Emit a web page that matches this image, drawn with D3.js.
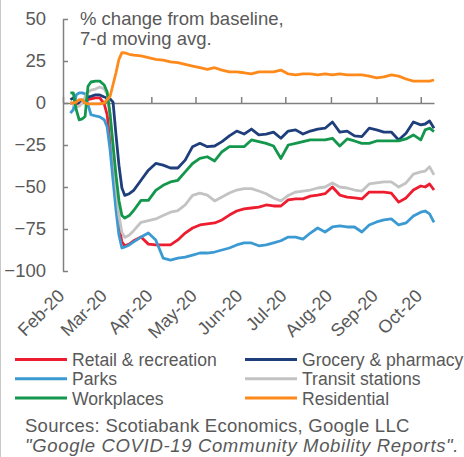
<!DOCTYPE html>
<html>

<head>
    <meta charset="UTF-8">
    <title>Mobility</title>
    <script src="https://d3js.org/d3.v7.min.js"></script>
    <style>
        body {
            margin: 0;
            background-color: white;
        }
        svg text {
            font-family: "Liberation Sans", Arial, sans-serif;
            fill: #595959;
        }
    </style>
</head>

<body>
    <div id="chart"></div>
    <script>
        // observation dates (7-d moving average)
        var dates = [
            '2020-02-06', '2020-02-08', '2020-02-10', '2020-02-12', '2020-02-14', '2020-02-16',
            '2020-02-18', '2020-02-20', '2020-02-23', '2020-02-26', '2020-02-29', '2020-03-02',
            '2020-03-04', '2020-03-06', '2020-03-08', '2020-03-10', '2020-03-12', '2020-03-14',
            '2020-03-17', '2020-03-20', '2020-03-25', '2020-03-30', '2020-04-04', '2020-04-09',
            '2020-04-14', '2020-04-19', '2020-04-24', '2020-04-29', '2020-05-04', '2020-05-09',
            '2020-05-14', '2020-05-19', '2020-05-24', '2020-05-29', '2020-06-03', '2020-06-08',
            '2020-06-13', '2020-06-18', '2020-06-23', '2020-06-28', '2020-07-03', '2020-07-08',
            '2020-07-13', '2020-07-18', '2020-07-23', '2020-07-28', '2020-08-02', '2020-08-07',
            '2020-08-12', '2020-08-17', '2020-08-22', '2020-08-27', '2020-09-01', '2020-09-06',
            '2020-09-11', '2020-09-16', '2020-09-21', '2020-09-26', '2020-10-01', '2020-10-04',
            '2020-10-07', '2020-10-10'
        ];

        var retail = [
            0, -0.5, -0.5, 0, 0.5, 0.5, 2, 2.4, 3, 3, -0.5, -7,
            -22.6, -40, -58, -72.6, -82.7, -85, -84, -82, -79.8, -84, -84.5, -84.5,
            -84.5, -81.5, -77.4, -74.4, -72.6, -72, -71.4, -69.6, -66.7, -64.3, -63, -62.5,
            -62, -60.7, -61.3, -61.3, -57.7, -57.1, -57.1, -55.4, -54.8, -54, -50, -54.8,
            -56, -56.5, -57.1, -53, -53, -53, -53.6, -59, -56.5, -51.8, -49.4, -50,
            -48.2, -51.8
        ];
        var grocery = [
            2, 3, 0.5, 0, 0.5, 2.4, 3.6, 4, 4.8, 4.8, 3.6, 3,
            2.4, 0.5, -19, -37, -50.6, -55, -54, -52, -46, -40, -36, -37,
            -38.7, -38.7, -34, -26, -24, -26, -25.6, -23, -19.6, -16.7, -18.5, -15.5,
            -19, -18.5, -17.3, -21, -16.7, -16, -18.5, -16.7, -15.5, -15, -11.3, -17.3,
            -16.7, -19.6, -20, -15, -16, -17.3, -17.3, -22, -18, -11.3, -13, -12.5,
            -10.7, -15
        ];
        var parks = [
            -6, -4, 4.8, 6, 6, 5.4, -1, -7, -7.7, -8.3, -10, -14.3,
            -28, -46, -63.7, -78.6, -86.3, -85.7, -84.5, -82.7, -79.8, -77.4, -81.5, -92.3,
            -93.5, -92.3, -91.7, -90.5, -89.3, -89.3, -88.7, -87.5, -86.3, -84.5, -83.3, -83.3,
            -85, -84.5, -83.3, -82, -79.8, -79.8, -81, -77.4, -74.4, -76.8, -73.8, -73.2,
            -73.8, -73.8, -76.8, -72.6, -70.8, -69.6, -69, -72.6, -71.4, -67.3, -65, -64.3,
            -66, -71
        ];
        var transit = [
            0, -0.5, -2, -2, 0, 3.6, 6.5, 7.7, 8.3, 9.5, 8.3, 5.4,
            -7, -28, -49, -67, -77, -80, -78.6, -76, -71, -70, -69, -67,
            -65, -64, -60.7, -55, -53.6, -54.8, -58.3, -56, -53.6, -51.8, -51, -51,
            -52.4, -54, -56.5, -58.3, -55, -53, -52.4, -51.8, -50.6, -50, -47.6, -50,
            -50.6, -51.8, -52.4, -48.2, -47.6, -47, -47, -50, -47.6, -42.3, -41, -40.5,
            -38, -42.8
        ];
        var workplaces = [
            6, 6, -4, -10, -9.5, -8, 10, 12.5, 13, 13, 10.7, 6.5,
            -7, -25, -43, -58, -67, -68.5, -67, -64, -58, -58, -52, -49,
            -47, -46, -41, -36, -33, -32, -34.5, -29, -26, -26, -26, -22,
            -23, -24, -25.6, -33, -25, -24, -23, -22, -22, -22, -21, -25.6,
            -21.4, -22.6, -24, -24, -22.6, -22.6, -22.6, -22.6, -21.4, -19, -22, -16,
            -15, -17
        ];
        var residential = [
            0, 0, 0.5, 2, 2, 0, -0.5, -0.5, -0.5, -0.5, 0, 2,
            4, 11, 18, 26, 30, 29.8, 29, 28.5, 28, 27, 26, 25.5,
            24.5, 24, 23, 22, 21, 20, 21, 19.6, 18.5, 18.5, 18, 17.3,
            18.5, 18.5, 18.5, 19.6, 17.3, 16.7, 17.3, 17.3, 16.7, 17.3, 16.7, 17.3,
            16.7, 16.7, 16.7, 16, 15, 15.5, 16.7, 16, 14.3, 13, 13, 13,
            13, 13.7
        ];

        var seriesNames = ['Retail & recreation', 'Grocery & pharmacy', 'Parks',
            'Transit stations', 'Workplaces', 'Residential'];
        var seriesValues = [retail, grocery, parks, transit, workplaces, residential];
        var seriesColors = ['#ED1C2E', '#1F3F7C', '#3C9AD3', '#C3C3C3', '#13974C', '#FF8A1C'];
        var yTicks = [50, 25, 0, -25, -50, -75, -100];

        var width = 464;
        var height = 457;

        var parseDate = d3.timeParse('%Y-%m-%d');
        var dateList = dates.map(parseDate);

        var svg = d3.select('#chart')
            .append('svg')
                .attr('width', width)
                .attr('height', height);

        // thin frame line on the left edge
        svg.append('line')
            .attr('x1', 0.5).attr('x2', 0.5)
            .attr('y1', 0).attr('y2', height)
            .attr('stroke', '#c8c8c8')
            .attr('stroke-width', 1);

        var x = d3.scaleTime()
            .domain([new Date(2020, 1, 1), new Date(2020, 9, 10)])
            .range([63, 434]);

        var y = d3.scaleLinear()
            .domain([-100, 50])
            .range([271, 19]);

        var axisColor = '#808080';

        // y axis, ticks pointing inward
        var yAxis = svg.append('g')
            .attr('transform', 'translate(63,0)')
            .call(d3.axisLeft(y)
                .tickValues(yTicks)
                .tickSizeInner(-5)
                .tickSizeOuter(0)
                .tickPadding(17));
        yAxis.select('.domain').attr('stroke', axisColor).attr('stroke-width', 1.5);
        yAxis.selectAll('.tick line').attr('stroke', axisColor).attr('stroke-width', 1.5);
        yAxis.selectAll('text')
            .style('font-size', '18.5px')
            .attr('fill', '#595959');

        var monthTicks = d3.timeMonth.range(new Date(2020, 1, 1), new Date(2020, 9, 2));

        // x axis along zero, tick marks pointing up
        var xAxis = svg.append('g')
            .attr('transform', 'translate(0,' + y(0) + ')')
            .call(d3.axisTop(x)
                .tickValues(monthTicks)
                .tickSizeInner(6)
                .tickSizeOuter(0)
                .tickFormat(''));
        xAxis.select('.domain').attr('stroke', axisColor).attr('stroke-width', 1.5);
        xAxis.selectAll('.tick line').attr('stroke', axisColor).attr('stroke-width', 1.5);

        // month labels at the bottom, rotated
        var xLabels = svg.append('g')
            .attr('transform', 'translate(2,297)')
            .call(d3.axisBottom(x)
                .tickValues(monthTicks)
                .tickSize(0)
                .tickPadding(0)
                .tickFormat(d3.timeFormat('%b-%y')));
        xLabels.select('.domain').remove();
        xLabels.selectAll('text')
            .attr('y', 0)
            .attr('dy', 0)
            .attr('text-anchor', 'end')
            .attr('transform', 'rotate(-45)')
            .style('font-size', '18px')
            .attr('fill', '#595959');

        // lines
        var line = d3.line()
            .x(function(d) { return x(d.date); })
            .y(function(d) { return y(d.value); });

        seriesValues.forEach(function(values, i) {
            var points = values.map(function(v, j) {
                return { date: dateList[j], value: v };
            });
            svg.append('path')
                .datum(points)
                .attr('d', line)
                .attr('fill', 'none')
                .attr('stroke', seriesColors[i])
                .attr('stroke-width', 2.8)
                .attr('stroke-linejoin', 'round');
        });

        // title
        var title = svg.append('text')
            .attr('x', 80)
            .attr('y', 25)
            .style('font-size', '18.5px');
        title.append('tspan').attr('x', 80).attr('y', 25).text('% change from baseline,');
        title.append('tspan').attr('x', 80).attr('y', 45).text('7-d moving avg.');

        // legend, two columns
        var legend = svg.append('g');
        seriesNames.forEach(function(name, i) {
            var col = i % 2;
            var row = Math.floor(i / 2);
            var lx = col === 0 ? 15 : 245;
            var ly = 359.5 + row * 19.3;
            legend.append('line')
                .attr('x1', lx).attr('x2', lx + 52)
                .attr('y1', ly).attr('y2', ly)
                .attr('stroke', seriesColors[i])
                .attr('stroke-width', 3);
            legend.append('text')
                .attr('x', lx + 57)
                .attr('y', ly + 6.5)
                .style('font-size', '17.6px')
                .text(name);
        });

        // sources
        svg.append('text')
            .attr('x', 25)
            .attr('y', 432)
            .style('font-size', '18.5px')
            .style('letter-spacing', '0.25px')
            .text('Sources: Scotiabank Economics, Google LLC');
        svg.append('text')
            .attr('x', 25)
            .attr('y', 452)
            .style('font-size', '18.5px')
            .style('font-style', 'italic')
            .style('letter-spacing', '0.65px')
            .text('"Google COVID-19 Community Mobility Reports".');
    </script>
</body>

</html>
